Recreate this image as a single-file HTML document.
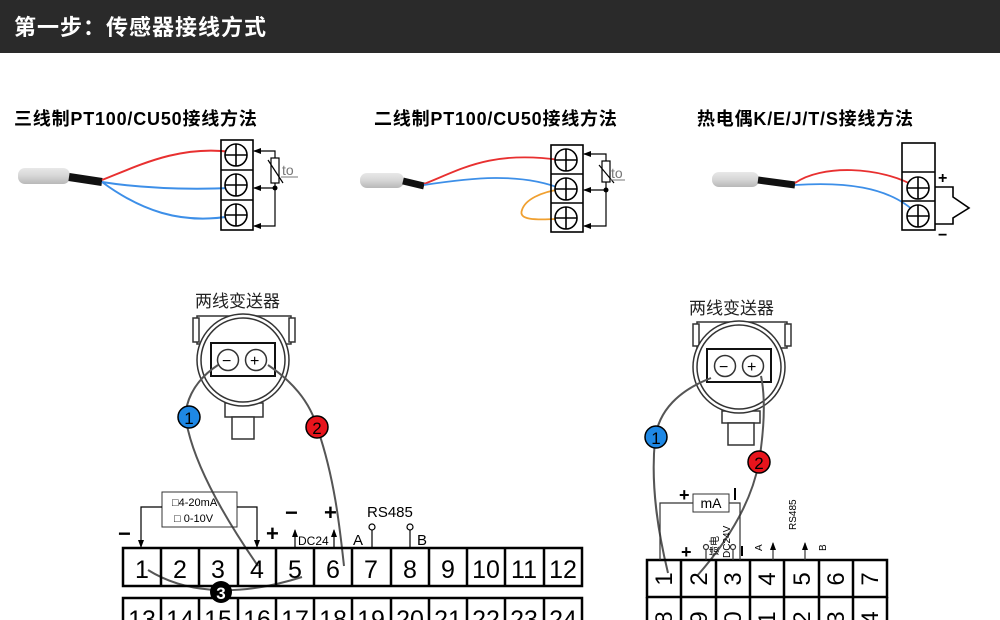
<!DOCTYPE html>
<html><head><meta charset="utf-8"><style>
body{margin:0;background:#fff;width:1000px;height:620px;overflow:hidden}
svg{display:block}
text{font-family:"Liberation Sans","Noto Sans CJK SC",sans-serif}
</style></head><body>
<svg width="1000" height="620" viewBox="0 0 1000 620" xmlns="http://www.w3.org/2000/svg">
<defs>
<marker id="ar" markerWidth="8" markerHeight="8" refX="7" refY="4" orient="auto" markerUnits="userSpaceOnUse"><path d="M0,1 L8,4 L0,7z" fill="#000"/></marker>
<g id="tc"><circle r="11" fill="#fff" stroke="#000" stroke-width="1.6"/><line x1="-11" y1="0" x2="11" y2="0" stroke="#000" stroke-width="1.6"/><line x1="0" y1="-11" x2="0" y2="11" stroke="#000" stroke-width="1.6"/></g>
<linearGradient id="pg" x1="0" y1="0" x2="0" y2="1"><stop offset="0" stop-color="#e8e8e8"/><stop offset=".5" stop-color="#d6d6d6"/><stop offset="1" stop-color="#b8b8b8"/></linearGradient>
</defs>
<rect x="0" y="0" width="1000" height="53" fill="#2a2a2a"/>
<text x="14" y="35" fill="#fff" font-size="22" font-weight="bold" letter-spacing="1">第一步：传感器接线方式</text>

<!-- diagram 1 -->
<text x="14" y="125" font-size="18" font-weight="bold" letter-spacing="0.8">三线制PT100/CU50接线方法</text>
<rect x="18" y="168" width="52" height="16" rx="7" fill="url(#pg)"/>
<path d="M69,177 L102,182" stroke="#111" stroke-width="8"/>
<path d="M102,180 C140,165 180,145 232,152" stroke="#e83030" stroke-width="2" fill="none"/>
<path d="M102,182 C140,188 180,190 232,188" stroke="#3d8fe8" stroke-width="2" fill="none"/>
<path d="M102,182 C140,210 180,225 232,216" stroke="#3d8fe8" stroke-width="2" fill="none"/>
<rect x="221" y="140" width="32" height="90" fill="none" stroke="#000" stroke-width="1.6"/>
<line x1="221" y1="170" x2="253" y2="170" stroke="#000" stroke-width="1.6"/>
<line x1="221" y1="200" x2="253" y2="200" stroke="#000" stroke-width="1.6"/>
<use href="#tc" x="236" y="155"/><use href="#tc" x="236" y="185"/><use href="#tc" x="236" y="215"/>
<g stroke="#000" stroke-width="1.2" fill="none">
<polyline points="275,158 275,151 254,151" marker-end="url(#ar)"/>
<line x1="275" y1="188" x2="254" y2="188" marker-end="url(#ar)"/>
<polyline points="275,183 275,226 254,226" marker-end="url(#ar)"/>
<rect x="271" y="158" width="8" height="25" fill="#fff"/>
<line x1="268" y1="160" x2="283" y2="183"/>
</g>
<circle cx="275" cy="188" r="2.5"/>
<text x="282" y="175" font-size="14" fill="#777">to</text>
<line x1="281" y1="177" x2="298" y2="177" stroke="#777"/>

<!-- diagram 2 -->
<text x="374" y="125" font-size="18" font-weight="bold" letter-spacing="0.8">二线制PT100/CU50接线方法</text>
<rect x="360" y="173" width="44" height="15" rx="7" fill="url(#pg)"/>
<path d="M403,181 L424,186" stroke="#111" stroke-width="7"/>
<path d="M424,184 C460,170 490,150 560,160" stroke="#e83030" stroke-width="1.8" fill="none"/>
<path d="M424,185 C470,178 520,172 562,189" stroke="#3d8fe8" stroke-width="1.8" fill="none"/>
<path d="M562,189 C540,192 525,200 522,210 C518,220 535,220 556,219" stroke="#f0a030" stroke-width="1.8" fill="none"/>
<rect x="551" y="145" width="32" height="87" fill="none" stroke="#000" stroke-width="1.6"/>
<line x1="551" y1="174" x2="583" y2="174" stroke="#000" stroke-width="1.6"/>
<line x1="551" y1="203" x2="583" y2="203" stroke="#000" stroke-width="1.6"/>
<use href="#tc" x="566" y="160"/><use href="#tc" x="566" y="189"/><use href="#tc" x="566" y="218"/>
<g stroke="#000" stroke-width="1.2" fill="none">
<polyline points="606,161 606,154 584,154" marker-end="url(#ar)"/>
<line x1="606" y1="190" x2="584" y2="190" marker-end="url(#ar)"/>
<polyline points="606,181 606,226 584,226" marker-end="url(#ar)"/>
<rect x="602" y="161" width="8" height="21" fill="#fff"/>
<line x1="599" y1="165" x2="614" y2="183"/>
</g>
<circle cx="606" cy="190" r="2.5"/>
<text x="611" y="178" font-size="14" fill="#777">to</text>
<line x1="610" y1="180" x2="625" y2="180" stroke="#777"/>

<!-- diagram 3 -->
<text x="697" y="125" font-size="18" font-weight="bold" letter-spacing="0.8">热电偶K/E/J/T/S接线方法</text>
<rect x="712" y="172" width="47" height="15" rx="7" fill="url(#pg)"/>
<path d="M758,180 L795,185" stroke="#111" stroke-width="7"/>
<path d="M795,183 C820,165 880,165 918,188" stroke="#e83030" stroke-width="1.8" fill="none"/>
<path d="M795,185 C840,182 890,185 918,215" stroke="#3d8fe8" stroke-width="1.8" fill="none"/>
<rect x="902" y="143" width="33" height="87" fill="none" stroke="#000" stroke-width="1.6"/>
<line x1="902" y1="172" x2="935" y2="172" stroke="#000" stroke-width="1.6"/>
<line x1="902" y1="201" x2="935" y2="201" stroke="#000" stroke-width="1.6"/>
<use href="#tc" x="918" y="188"/><use href="#tc" x="918" y="216"/>
<polyline points="935,187 953,187 953,197 969,208 953,218 953,224 935,224" fill="none" stroke="#000" stroke-width="1.6"/>
<text x="938" y="183" font-size="16" font-weight="bold">+</text>
<text x="938" y="240" font-size="16" font-weight="bold">−</text>

<!-- bottom left transmitter -->
<text x="195" y="307" font-size="17" fill="#222">两线变送器</text>
<g stroke="#333" fill="#fff" stroke-width="1.5">
<rect x="197" y="316" width="94" height="28"/>
<rect x="193" y="318" width="6" height="24"/><rect x="289" y="318" width="6" height="24"/>
<rect x="225" y="403" width="38" height="14"/>
<rect x="232" y="417" width="22" height="22"/>
<circle cx="243" cy="360" r="46"/>
<circle cx="243" cy="360" r="42"/>
<rect x="211" y="343" width="64" height="33" stroke="#111" stroke-width="2"/>
<circle cx="228" cy="360" r="10.5"/><circle cx="256" cy="360" r="10.5"/>
</g>
<text x="222" y="366" font-size="16">−</text><text x="250" y="366" font-size="16">+</text>
<g stroke="#555" stroke-width="2" fill="none">
<path d="M218,365 C195,380 180,405 188,430 C200,480 240,540 258,566"/>
<path d="M268,365 C290,380 310,400 318,430 C335,480 340,530 344,566"/>
<path d="M148,570 C180,590 230,600 302,577"/>
</g>
<circle cx="189" cy="417" r="11" fill="#1e88e5" stroke="#000" stroke-width="1.5"/><text x="189" y="424" font-size="17" text-anchor="middle">1</text>
<circle cx="317" cy="427" r="11" fill="#e8141c" stroke="#000" stroke-width="1.5"/><text x="317" y="434" font-size="17" text-anchor="middle">2</text>
<g stroke="#000" stroke-width="2.5" fill="none">
<rect x="123" y="548" width="459" height="38"/>
<path d="M161,548V586M199,548V586M238,548V586M276,548V586M314,548V586M352,548V586M391,548V586M429,548V586M467,548V586M505,548V586M544,548V586"/>
<path d="M123,620V598H582V620M161,598V620M199,598V620M238,598V620M276,598V620M314,598V620M352,598V620M391,598V620M429,598V620M467,598V620M505,598V620M544,598V620"/>
</g>
<g font-size="25" text-anchor="middle">
<text x="142" y="578">1</text><text x="180" y="578">2</text><text x="218" y="578">3</text><text x="257" y="578">4</text><text x="295" y="578">5</text><text x="333" y="578">6</text><text x="371" y="578">7</text><text x="410" y="578">8</text><text x="448" y="578">9</text><text x="486" y="578">10</text><text x="524" y="578">11</text><text x="563" y="578">12</text>
<text x="142" y="628">13</text><text x="180" y="628">14</text><text x="218" y="628">15</text><text x="257" y="628">16</text><text x="295" y="628">17</text><text x="333" y="628">18</text><text x="371" y="628">19</text><text x="410" y="628">20</text><text x="448" y="628">21</text><text x="486" y="628">22</text><text x="524" y="628">23</text><text x="563" y="628">24</text>
</g>
<circle cx="221" cy="592" r="11" fill="#000"/><text x="221" y="599" font-size="17" fill="#fff" text-anchor="middle" font-weight="bold">3</text>
<rect x="162" y="492" width="75" height="35" fill="none" stroke="#333" stroke-width="1"/>
<text x="172" y="506" font-size="11">□4-20mA</text><text x="174" y="522" font-size="11">□ 0-10V</text>
<g stroke="#000" stroke-width="1.2" fill="none">
<polyline points="162,507 141,507 141,547" marker-end="url(#ar)"/>
<polyline points="237,507 257,507 257,547" marker-end="url(#ar)"/>
<line x1="295" y1="548" x2="295" y2="530" marker-end="url(#ar)"/>
<line x1="334" y1="548" x2="334" y2="530" marker-end="url(#ar)"/>
<line x1="372" y1="548" x2="372" y2="530"/><circle cx="372" cy="527" r="3"/>
<line x1="410" y1="548" x2="410" y2="530"/><circle cx="410" cy="527" r="3"/>
</g>
<g font-size="22" font-weight="bold"><text x="118" y="541">−</text><text x="266" y="541">+</text><text x="285" y="520">−</text><text x="324" y="520">+</text></g>
<text x="298" y="545" font-size="12">DC24</text>
<text x="367" y="517" font-size="15">RS485</text>
<text x="353" y="545" font-size="15">A</text><text x="417" y="545" font-size="15">B</text>

<!-- bottom right transmitter -->
<text x="689" y="314" font-size="17" fill="#222">两线变送器</text>
<g stroke="#333" fill="#fff" stroke-width="1.5">
<rect x="697" y="322" width="90" height="26"/>
<rect x="693" y="324" width="6" height="22"/><rect x="785" y="324" width="6" height="22"/>
<rect x="722" y="411" width="38" height="12"/>
<rect x="728" y="423" width="26" height="22"/>
<circle cx="739" cy="367" r="46"/>
<circle cx="739" cy="367" r="42"/>
<rect x="707" y="349" width="64" height="33" stroke="#111" stroke-width="2"/>
<circle cx="725" cy="366" r="10.5"/><circle cx="753" cy="366" r="10.5"/>
</g>
<text x="719" y="372" font-size="16">−</text><text x="747" y="372" font-size="16">+</text>
<g stroke="#555" stroke-width="2" fill="none">
<path d="M711,378 C680,390 658,410 655,440 C650,490 660,540 668,573"/>
<path d="M761,376 C766,400 764,430 759,462 C750,510 720,550 697,576"/>
</g>
<circle cx="656" cy="437" r="11" fill="#1e88e5" stroke="#000" stroke-width="1.5"/><text x="656" y="444" font-size="17" text-anchor="middle">1</text>
<circle cx="759" cy="462" r="11" fill="#e8141c" stroke="#000" stroke-width="1.5"/><text x="759" y="469" font-size="17" text-anchor="middle">2</text>
<g stroke="#000" stroke-width="2.5" fill="none">
<rect x="647" y="560" width="240" height="37"/>
<path d="M681,560V620M716,560V620M750,560V620M784,560V620M819,560V620M853,560V620M647,597V620M887,597V620"/>
</g>
<g font-size="24" text-anchor="middle">
<text transform="translate(672,579) rotate(-90)">1</text><text transform="translate(707,579) rotate(-90)">2</text><text transform="translate(741,579) rotate(-90)">3</text><text transform="translate(775,579) rotate(-90)">4</text><text transform="translate(810,579) rotate(-90)">5</text><text transform="translate(844,579) rotate(-90)">6</text><text transform="translate(878,579) rotate(-90)">7</text>
<text transform="translate(672,618) rotate(-90)">8</text><text transform="translate(707,618) rotate(-90)">9</text><text transform="translate(741,618) rotate(-90)">0</text><text transform="translate(775,618) rotate(-90)">1</text><text transform="translate(810,618) rotate(-90)">2</text><text transform="translate(844,618) rotate(-90)">3</text><text transform="translate(878,618) rotate(-90)">4</text>
</g>
<rect x="693" y="494" width="36" height="18" fill="none" stroke="#333"/>
<text x="711" y="508" font-size="14" text-anchor="middle">mA</text>
<g stroke="#333" stroke-width="1.2" fill="none">
<polyline points="693,503 660,503 660,560"/>
<polyline points="729,503 740,503 740,560"/>
<line x1="706" y1="560" x2="706" y2="550"/><circle cx="706" cy="547" r="2.5"/>
<line x1="733" y1="560" x2="733" y2="550"/><circle cx="733" cy="547" r="2.5"/>
<line x1="773" y1="560" x2="773" y2="543" marker-end="url(#ar)"/>
<line x1="805" y1="560" x2="805" y2="543" marker-end="url(#ar)"/>
</g>
<g font-size="18" font-weight="bold"><text x="679" y="501">+</text><text x="681" y="558">+</text></g>
<rect x="734" y="488" width="2" height="12" fill="#000"/>
<rect x="741" y="546" width="2" height="10" fill="#000"/>
<g font-size="10">
<text transform="translate(718,556) rotate(-90)">馈电</text>
<text transform="translate(730,558) rotate(-90)">DC24V</text>
<text transform="translate(762,551) rotate(-90)">A</text>
<text transform="translate(796,530) rotate(-90)">RS485</text>
<text transform="translate(826,551) rotate(-90)">B</text>
</g>
</svg>
</body></html>
